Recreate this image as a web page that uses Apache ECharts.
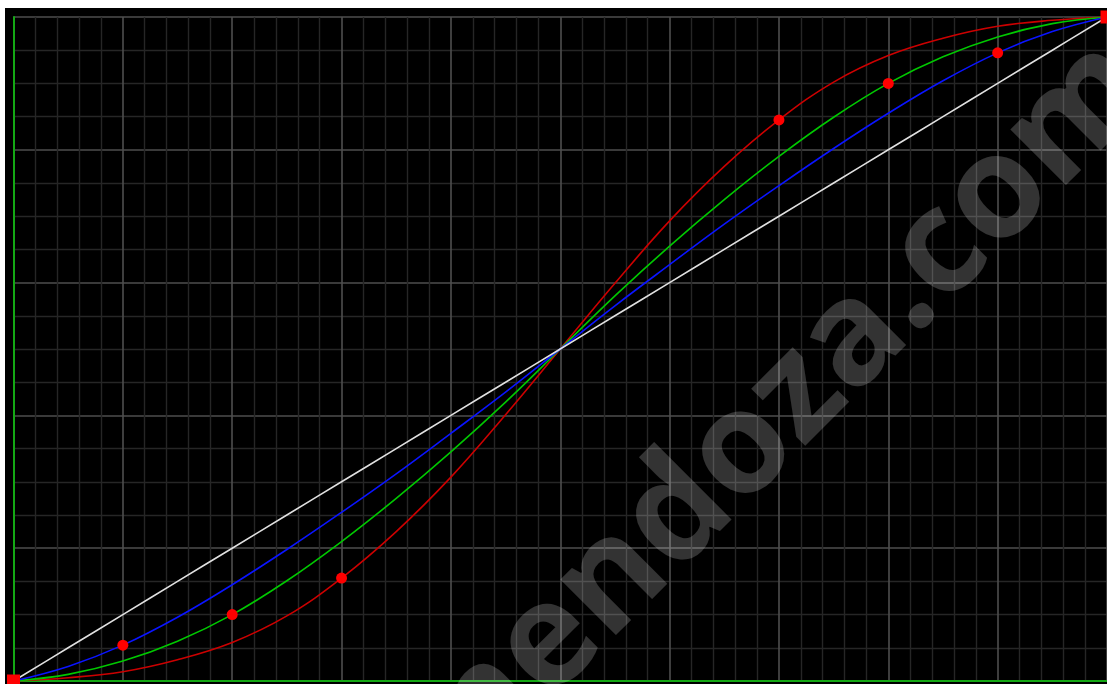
<!DOCTYPE html>
<html>
<head>
<meta charset="utf-8">
<script src="https://cdn.jsdelivr.net/npm/echarts@6/dist/echarts.min.js"></script>
<style>
  html, body { margin: 0; padding: 0; background: #ffffff; width: 1107px; height: 684px; overflow: hidden; }
  #chart { position: absolute; left: 5px; top: 8px; width: 1102px; height: 676px; background: #000000; }
</style>
</head>
<body>
<div id="chart"></div>
<script>
// sample positions along the x axis (0..1)
var xs = [0, 0.05, 0.1, 0.15, 0.2, 0.25, 0.3, 0.35, 0.4, 0.45, 0.5, 0.55, 0.6, 0.65, 0.7, 0.75, 0.8, 0.85, 0.9, 0.95, 1];
// curve values
var whiteY = [0, 0.05, 0.1, 0.15, 0.2, 0.25, 0.3, 0.35, 0.4, 0.45, 0.5, 0.55, 0.6, 0.65, 0.7, 0.75, 0.8, 0.85, 0.9, 0.95, 1];
var blueY  = [0, 0.022, 0.054, 0.096, 0.145, 0.198, 0.254, 0.312, 0.373, 0.435, 0.5, 0.565, 0.627, 0.688, 0.746, 0.802, 0.855, 0.904, 0.946, 0.978, 1];
var greenY = [0, 0.01, 0.03, 0.06, 0.1, 0.151, 0.21, 0.275, 0.345, 0.42, 0.5, 0.58, 0.655, 0.725, 0.79, 0.849, 0.9, 0.94, 0.97, 0.99, 1];
var redY   = [0, 0.005, 0.014, 0.032, 0.058, 0.098, 0.155, 0.225, 0.307, 0.401, 0.5, 0.599, 0.693, 0.775, 0.845, 0.902, 0.942, 0.968, 0.986, 0.995, 1];
// red marker dots
var dotX = [0.1, 0.2, 0.3, 0.7, 0.8, 0.9];
var dotY = [0.054, 0.1, 0.155, 0.845, 0.9, 0.946];
// end squares
var cornerX = [0, 1];
var cornerY = [0, 1];
var watermark = 'mendoza.com';

function pairs(xv, yv) { return xv.map(function (x, i) { return [x, yv[i]]; }); }

var chart = echarts.init(document.getElementById('chart'), null, { renderer: 'canvas' });
function lineSeries(yv, color) {
  return {
    type: 'line', data: pairs(xs, yv), smooth: 0.4,
    showSymbol: false, symbol: 'none', silent: true, z: 3,
    lineStyle: { color: color, width: 1.6 }
  };
}
chart.setOption({
  backgroundColor: '#000000',
  animation: false,
  grid: { left: 8.5, top: 9, width: 1096.5, height: 664, containLabel: false },
  xAxis: {
    type: 'value', min: 0, max: 1, interval: 0.1,
    axisLine: { show: true, onZero: false, lineStyle: { color: '#14a814', width: 2 } },
    axisTick: { show: false }, axisLabel: { show: false },
    splitLine: { show: true, lineStyle: { color: '#4e4e4e', width: 1.6 } },
    minorTick: { show: false, splitNumber: 5 },
    minorSplitLine: { show: true, lineStyle: { color: '#262626', width: 1.4 } }
  },
  yAxis: {
    type: 'value', min: 0, max: 1, interval: 0.2,
    axisLine: { show: true, onZero: false, lineStyle: { color: '#14a814', width: 2 } },
    axisTick: { show: false }, axisLabel: { show: false },
    splitLine: { show: true, lineStyle: { color: '#4e4e4e', width: 1.6 } },
    minorTick: { show: false, splitNumber: 4 },
    minorSplitLine: { show: true, lineStyle: { color: '#262626', width: 1.4 } }
  },
  graphic: [{
    type: 'text', x: 769, y: 411, rotation: Math.PI / 4, z: 1, silent: true,
    style: {
      text: watermark, font: 'bold 144px "Open Sans", sans-serif',
      fill: 'rgba(255,255,255,0.2)',
      align: 'center', verticalAlign: 'middle',
      textAlign: 'center', textVerticalAlign: 'middle'
    }
  }],
  series: [
    lineSeries(redY, '#cc0000'),
    lineSeries(greenY, '#00c800'),
    lineSeries(blueY, '#0a14ff'),
    lineSeries(whiteY, '#e0e0e0'),
    {
      type: 'scatter', data: pairs(dotX, dotY), symbol: 'circle', symbolSize: 11,
      itemStyle: { color: '#ff0000', opacity: 1 }, z: 5, clip: false, silent: true
    },
    {
      type: 'scatter', data: pairs(cornerX, cornerY), symbol: 'rect', symbolSize: 13,
      itemStyle: { color: '#ff0000', opacity: 1 }, z: 5, clip: false, silent: true
    }
  ]
});
</script>
</body>
</html>
